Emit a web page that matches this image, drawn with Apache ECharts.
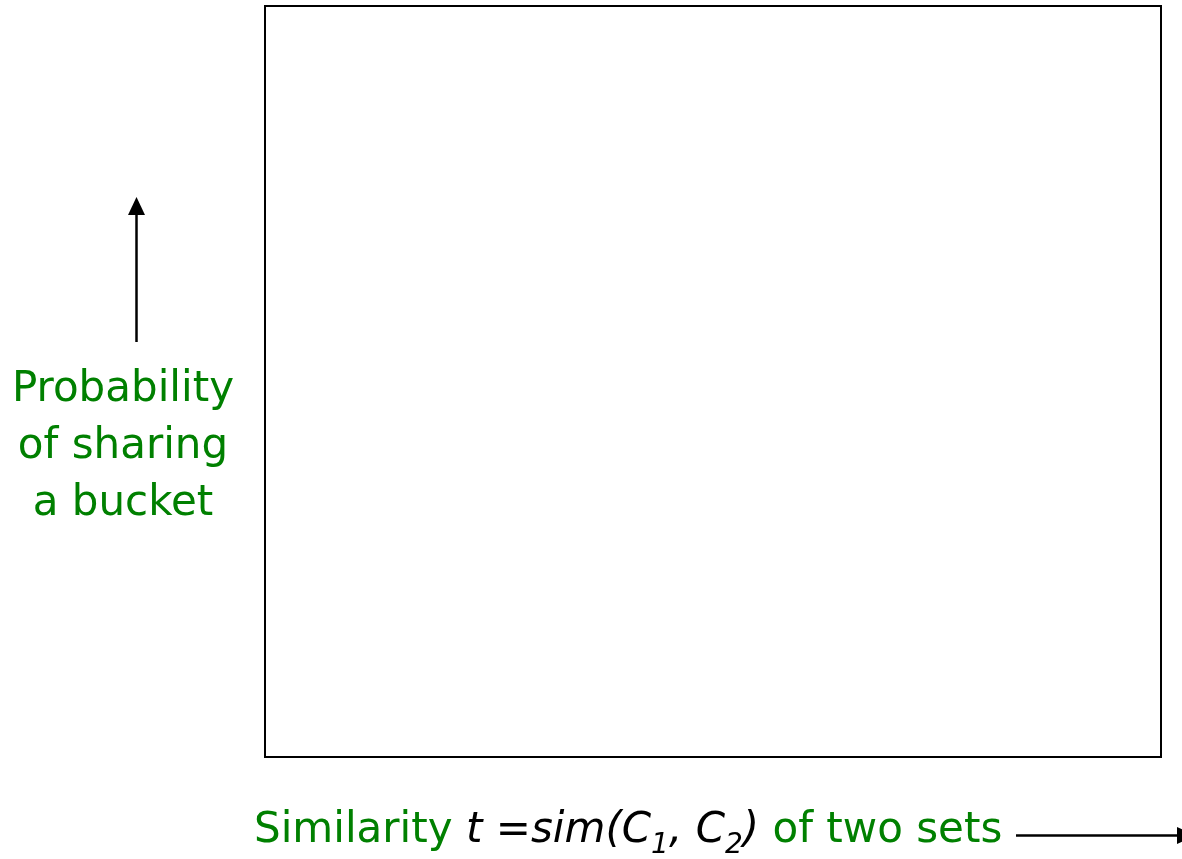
<!DOCTYPE html>
<html>
<head>
    <meta charset="utf-8">
    <title>LSH S-curve frame</title>
    <script src="https://cdn.jsdelivr.net/npm/echarts@6/dist/echarts.min.js"></script>
    <style>
        html, body { margin: 0; padding: 0; background: #ffffff; }
        #chart { width: 1182px; height: 859px; }
    </style>
</head>
<body>
<div id="chart"></div>
<script>
    // axis ranges (the plot is an empty frame: no curve yet)
    var xRange = [0, 1];
    var yRange = [0, 1];
    var yLabelLines = ['Probability', 'of sharing', 'a bucket'];
    var xLabelParts = ['Similarity ', 't =sim(C', '1', ', C', '2', ')', ' of two sets'];

    var green = '#008000';
    var font = 'DejaVu Sans';

    var chart = echarts.init(document.getElementById('chart'));

    var option = {
        animation: false,
        grid: {
            left: 265, top: 6, right: 21, bottom: 102,
            show: true,
            borderColor: '#000',
            borderWidth: 2,
            backgroundColor: '#fff'
        },
        xAxis: {
            type: 'value', min: xRange[0], max: xRange[1],
            axisLine: { show: false }, axisTick: { show: false },
            axisLabel: { show: false }, splitLine: { show: false }
        },
        yAxis: {
            type: 'value', min: yRange[0], max: yRange[1],
            axisLine: { show: false }, axisTick: { show: false },
            axisLabel: { show: false }, splitLine: { show: false }
        },
        series: [],
        graphic: [
            // vertical arrow
            { type: 'line', shape: { x1: 136.5, y1: 342, x2: 136.5, y2: 212 },
              style: { stroke: '#000', lineWidth: 2.5 } },
            { type: 'polygon', shape: { points: [[136.5, 197], [128, 215], [145, 215]] },
              style: { fill: '#000' } },
            // y label
            { type: 'text',
              style: {
                  x: 123, y: 362,
                  text: yLabelLines.join('\n'),
                  fill: green, font: '42px "' + font + '"',
                  align: 'center', lineHeight: 57
              } },
            // x label (subscripts sit at the bottom of a tall line box)
            { type: 'text',
              style: {
                  x: 254, y: 802,
                  text: '{g|' + xLabelParts[0] + '}{i|' + xLabelParts[1] + '}{s|' + xLabelParts[2] +
                        '}{i|' + xLabelParts[3] + '}{s|' + xLabelParts[4] + '}{i|' + xLabelParts[5] +
                        '}{g|' + xLabelParts[6] + '}',
                  rich: {
                      g: { fill: green, fontFamily: font, fontSize: 42, lineHeight: 58, verticalAlign: 'middle' },
                      i: { fill: '#000', fontFamily: font, fontSize: 42, fontStyle: 'italic', lineHeight: 58, verticalAlign: 'middle' },
                      s: { fill: '#000', fontFamily: font, fontSize: 28, fontStyle: 'italic', verticalAlign: 'bottom' }
                  }
              } },
            // horizontal arrow
            { type: 'line', shape: { x1: 1016, y1: 835.5, x2: 1180, y2: 835.5 },
              style: { stroke: '#000', lineWidth: 2.5 } },
            { type: 'polygon', shape: { points: [[1195, 835.5], [1177, 827], [1177, 844]] },
              style: { fill: '#000' } }
        ]
    };
    chart.setOption(option);

    window.onresize = function () {
        chart.resize();
    };
</script>
</body>
</html>
